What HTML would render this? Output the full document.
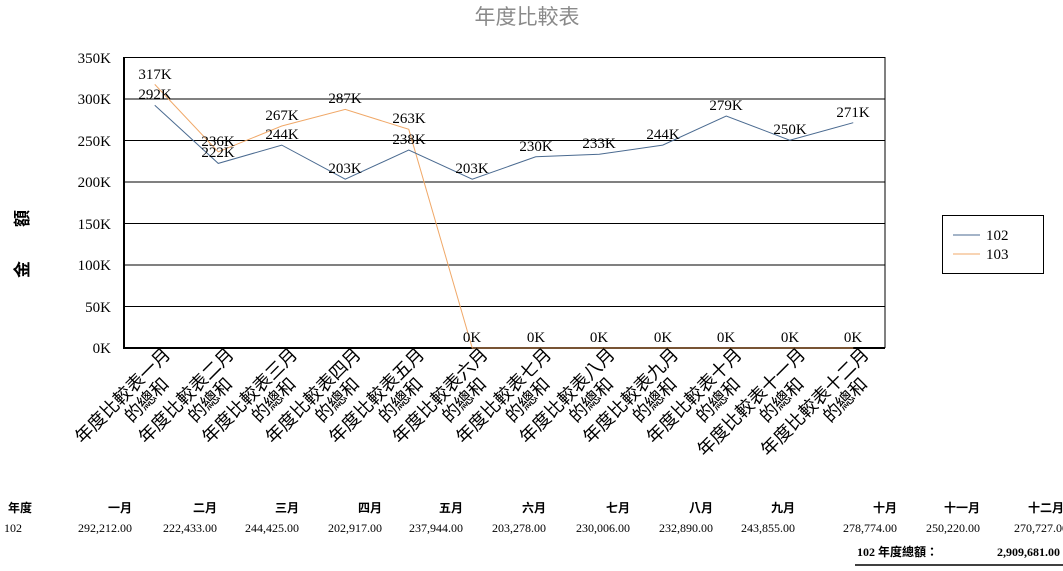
<!DOCTYPE html>
<html><head><meta charset="utf-8"><style>
body{margin:0;background:#fff;width:1063px;height:571px;overflow:hidden;font-family:"Liberation Serif","Noto Serif CJK SC","Noto Sans CJK TC",serif;}
svg{position:absolute;left:0;top:0}
</style></head><body>
<svg width="1063" height="571" xmlns="http://www.w3.org/2000/svg" font-family="Liberation Serif, Noto Sans CJK TC, serif">
<text x="527" y="24" text-anchor="middle" font-size="21" fill="#8a8a8a" font-family="Noto Sans CJK TC, sans-serif">年度比較表</text>
<g stroke="#000" stroke-width="1">
<line x1="123" y1="57.5" x2="885" y2="57.5"/>
<line x1="123" y1="99" x2="885" y2="99"/>
<line x1="123" y1="140.5" x2="885" y2="140.5"/>
<line x1="123" y1="182" x2="885" y2="182"/>
<line x1="123" y1="223.5" x2="885" y2="223.5"/>
<line x1="123" y1="265" x2="885" y2="265"/>
<line x1="123" y1="306.5" x2="885" y2="306.5"/>
<line x1="123" y1="348" x2="885" y2="348" stroke-width="2"/>
<line x1="124" y1="57" x2="124" y2="349" stroke-width="2"/>
<line x1="885" y1="57" x2="885" y2="348"/>
</g>
<g font-size="15" text-anchor="end" fill="#000">
<text x="111" y="63">350K</text><text x="111" y="104">300K</text><text x="111" y="146">250K</text><text x="111" y="187">200K</text><text x="111" y="229">150K</text><text x="111" y="270">100K</text><text x="111" y="312">50K</text><text x="111" y="353">0K</text>
</g>
<text transform="translate(28,244) rotate(-90)" font-size="17" font-weight="bold" font-family="Noto Sans CJK TC, sans-serif" text-anchor="middle">金　　額</text>
<polyline fill="none" stroke="#f0a868" stroke-width="1" points="154.75,84.4 218.25,151.8 281.75,126 345.25,109.4 408.75,129.3 472.25,348 535.75,348 599.25,348 662.75,348 726.25,348 789.75,348 853.25,348"/>
<polyline fill="none" stroke="#4a6a90" stroke-width="1" points="154.75,105.2 218.25,163.4 281.75,145.1 345.25,179.2 408.75,150.1 472.25,179.2 535.75,156.8 599.25,154.3 662.75,145.1 726.25,116 789.75,140.2 853.25,122.7"/>
<g font-size="15" text-anchor="middle" fill="#000">
<text x="155" y="79">317K</text><text x="218" y="146">236K</text><text x="282" y="120">267K</text><text x="345" y="103">287K</text><text x="409" y="123">263K</text>
<text x="472" y="342">0K</text><text x="536" y="342">0K</text><text x="599" y="342">0K</text><text x="663" y="342">0K</text><text x="726" y="342">0K</text><text x="790" y="342">0K</text><text x="853" y="342">0K</text>
<text x="155" y="99">292K</text><text x="218" y="157">222K</text><text x="282" y="139">244K</text><text x="345" y="173">203K</text><text x="409" y="144">238K</text><text x="472" y="173">203K</text><text x="536" y="151">230K</text><text x="599" y="148">233K</text><text x="663" y="139">244K</text><text x="726" y="110">279K</text><text x="790" y="134">250K</text><text x="853" y="117">271K</text>
</g>
<g font-size="18" text-anchor="end" font-family="Noto Sans CJK TC, sans-serif" fill="#000">
<g transform="translate(168,352) rotate(-45)"><text x="0" y="5">年度比較表一月</text><text x="-22" y="25">的總和</text></g>
<g transform="translate(231.5,352) rotate(-45)"><text x="0" y="5">年度比較表二月</text><text x="-22" y="25">的總和</text></g>
<g transform="translate(295,352) rotate(-45)"><text x="0" y="5">年度比較表三月</text><text x="-22" y="25">的總和</text></g>
<g transform="translate(358.5,352) rotate(-45)"><text x="0" y="5">年度比較表四月</text><text x="-22" y="25">的總和</text></g>
<g transform="translate(422,352) rotate(-45)"><text x="0" y="5">年度比較表五月</text><text x="-22" y="25">的總和</text></g>
<g transform="translate(485.5,352) rotate(-45)"><text x="0" y="5">年度比較表六月</text><text x="-22" y="25">的總和</text></g>
<g transform="translate(549,352) rotate(-45)"><text x="0" y="5">年度比較表七月</text><text x="-22" y="25">的總和</text></g>
<g transform="translate(612.5,352) rotate(-45)"><text x="0" y="5">年度比較表八月</text><text x="-22" y="25">的總和</text></g>
<g transform="translate(676,352) rotate(-45)"><text x="0" y="5">年度比較表九月</text><text x="-22" y="25">的總和</text></g>
<g transform="translate(739.5,352) rotate(-45)"><text x="0" y="5">年度比較表十月</text><text x="-22" y="25">的總和</text></g>
<g transform="translate(803,352) rotate(-45)"><text x="0" y="5">年度比較表十一月</text><text x="-22" y="25">的總和</text></g>
<g transform="translate(866.5,352) rotate(-45)"><text x="0" y="5">年度比較表十二月</text><text x="-22" y="25">的總和</text></g>
</g>
<rect x="942.5" y="215.5" width="101" height="58" fill="#fff" stroke="#000"/>
<line x1="953" y1="235" x2="980" y2="235" stroke="#4a6a90"/>
<line x1="953" y1="254" x2="980" y2="254" stroke="#f0a868"/>
<text x="986" y="240" font-size="15">102</text>
<text x="986" y="259" font-size="15">103</text>
<g font-size="12" font-weight="bold" text-anchor="end" font-family="Noto Sans CJK TC, sans-serif">
<text x="8" y="512" text-anchor="start">年度</text>
<text x="132" y="512">一月</text><text x="217" y="512">二月</text><text x="299" y="512">三月</text><text x="382" y="512">四月</text><text x="463" y="512">五月</text><text x="546" y="512">六月</text><text x="630" y="512">七月</text><text x="713" y="512">八月</text><text x="795" y="512">九月</text><text x="897" y="512">十月</text><text x="980" y="512">十一月</text><text x="1064" y="512">十二月</text>
</g>
<g font-size="12" text-anchor="end">
<text x="4" y="532" text-anchor="start">102</text>
<text x="132" y="532">292,212.00</text><text x="217" y="532">222,433.00</text><text x="299" y="532">244,425.00</text><text x="382" y="532">202,917.00</text><text x="463" y="532">237,944.00</text><text x="546" y="532">203,278.00</text><text x="630" y="532">230,006.00</text><text x="713" y="532">232,890.00</text><text x="795" y="532">243,855.00</text><text x="897" y="532">278,774.00</text><text x="980" y="532">250,220.00</text><text x="1068" y="532">270,727.00</text>
</g>
<text x="857" y="556" font-size="12" font-weight="bold" font-family="Liberation Serif, Noto Sans CJK TC, serif">102 年度總額：</text>
<text x="997" y="556" font-size="12" font-weight="bold">2,909,681.00</text>
<line x1="855" y1="565" x2="1063" y2="565" stroke="#000" stroke-width="1.5"/>
</svg>
</body></html>
